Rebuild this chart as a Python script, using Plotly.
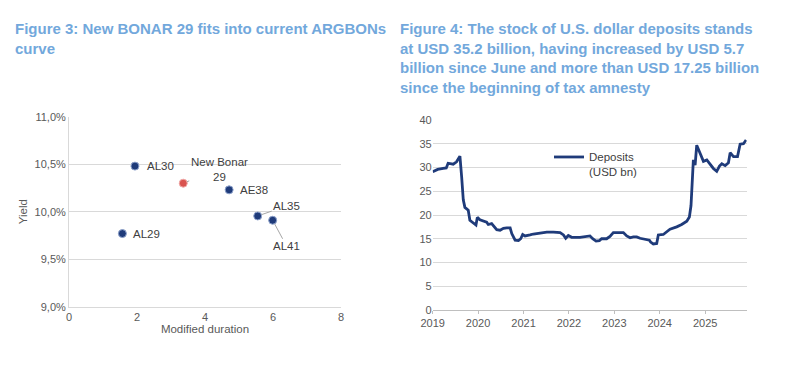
import plotly.graph_objects as go

# ---------- Figure 3 data ----------
bond_names = ["AL29", "AL30", "AE38", "AL35", "AL41"]
bond_duration = [1.57, 1.94, 4.71, 5.55, 5.99]
bond_yield = [9.77, 10.48, 10.23, 9.955, 9.91]
new_name = ["New Bonar<br>29"]
new_duration = [3.36]
new_yield = [10.30]

# ---------- Figure 4 data ----------
dep_dates = [
    "2019-01-01", "2019-02-10", "2019-03-26", "2019-04-20", "2019-05-05", "2019-06-15",
    "2019-07-12", "2019-08-08", "2019-08-22", "2019-09-04", "2019-09-17", "2019-10-14",
    "2019-10-27", "2019-11-23", "2019-12-15", "2019-12-26", "2020-01-16", "2020-03-10",
    "2020-03-23", "2020-04-19", "2020-05-16", "2020-05-30", "2020-06-26", "2020-07-23",
    "2020-08-19", "2020-09-15", "2020-09-28", "2020-10-12", "2020-10-25", "2020-11-21",
    "2020-12-09", "2020-12-25", "2021-01-13", "2021-02-22", "2021-03-21", "2021-05-14",
    "2021-07-07", "2021-08-29", "2021-10-22", "2021-11-18", "2021-12-06", "2021-12-27",
    "2022-01-23", "2022-03-31", "2022-05-24", "2022-06-19", "2022-07-11", "2022-08-07",
    "2022-09-03", "2022-09-21", "2022-10-31", "2022-11-27", "2022-12-24", "2023-02-16",
    "2023-03-15", "2023-04-11", "2023-05-08", "2023-06-03", "2023-06-30", "2023-07-27",
    "2023-09-19", "2023-10-10", "2023-10-20", "2023-11-11", "2023-12-08", "2023-12-21",
    "2024-01-30", "2024-02-26", "2024-03-24", "2024-05-17", "2024-06-26", "2024-08-06",
    "2024-08-27", "2024-09-09", "2024-09-20", "2024-09-28", "2024-10-12", "2024-10-25",
    "2024-11-21", "2024-12-18", "2025-01-14", "2025-02-10", "2025-03-08", "2025-04-04",
    "2025-04-26", "2025-05-15", "2025-06-11", "2025-07-07", "2025-07-21", "2025-08-17",
    "2025-09-18", "2025-10-09", "2025-11-05", "2025-11-26",
]
dep_values = [
    29.1, 29.6, 29.8, 29.9, 30.9, 30.7,
    31.2, 32.4, 28.0, 23.2, 21.6, 21.0,
    18.9, 18.3, 17.9, 19.5, 19.0, 18.5,
    18.0, 18.2, 17.2, 16.9, 16.8, 17.2,
    17.3, 17.3, 16.1, 15.2, 14.7, 14.6,
    15.0, 15.9, 15.6, 15.8, 16.0, 16.2,
    16.4, 16.4, 16.3, 15.8, 15.1, 15.7,
    15.3, 15.3, 15.4, 15.6, 15.0, 14.5,
    14.6, 15.0, 15.0, 15.5, 16.3, 16.4,
    16.3, 15.6, 15.2, 15.4, 15.4, 15.1,
    14.9, 14.7, 14.3, 13.9, 14.0, 15.8,
    15.9, 16.5, 17.0, 17.5, 18.0, 18.7,
    19.6, 22.0, 28.4, 31.6, 30.5, 34.7,
    33.0, 31.3, 31.6, 30.6, 29.8, 29.2,
    30.3, 30.8, 30.4, 31.0, 33.1, 32.3,
    32.3, 34.9, 35.0, 35.8,
]

label_shift = {"AL29": 9, "AL30": 10, "AE38": 9}

TITLE_COLOR = "#72a8dc"
TEXT_COLOR = "#595959"
LABEL_COLOR = "#404040"
GRID = "#d9d9d9"
NAVY = "#1f3b7a"
FONT = "Liberation Sans"

W, H = 800, 366
OFF = 8  # page body margin offset


def px(x):
    return (x - OFF) / W


def py(y):
    return 1 - (y - OFF) / H


fig = go.Figure()

fig.add_trace(go.Scatter(
    x=bond_duration, y=bond_yield, mode="markers", xaxis="x", yaxis="y",
    marker=dict(size=8, color=NAVY, line=dict(width=1, color="#8fa3cc")),
    showlegend=False, hoverinfo="skip"))
fig.add_trace(go.Scatter(
    x=new_duration, y=new_yield, mode="markers", xaxis="x", yaxis="y",
    marker=dict(size=8, color="#d9534f", line=dict(width=1, color="#f0a8a6")),
    showlegend=False, hoverinfo="skip"))

fig.add_trace(go.Scatter(
    x=dep_dates, y=dep_values, mode="lines", xaxis="x2", yaxis="y2",
    name="Deposits<br>(USD bn)", line=dict(color=NAVY, width=2.8),
    showlegend=True, hoverinfo="skip"))

annotations = []
for n, dx, dy in zip(bond_names, bond_duration, bond_yield):
    if n in label_shift:
        annotations.append(dict(
            x=dx, y=dy, xref="x", yref="y", text=n, showarrow=False,
            xanchor="left", yanchor="middle", xshift=label_shift[n],
            font=dict(family=FONT, size=11.5, color=LABEL_COLOR)))
annotations.append(dict(
    x=bond_duration[3], y=bond_yield[3], xref="x", yref="y", text="AL35",
    showarrow=True, arrowhead=0, arrowwidth=1, arrowcolor="#a6a6a6",
    ax=29, ay=-10, standoff=4, font=dict(family=FONT, size=11.5, color=LABEL_COLOR)))
annotations.append(dict(
    x=bond_duration[4], y=bond_yield[4], xref="x", yref="y", text="AL41",
    showarrow=True, arrowhead=0, arrowwidth=1, arrowcolor="#a6a6a6",
    ax=14, ay=26, standoff=4, font=dict(family=FONT, size=11.5, color=LABEL_COLOR)))
annotations.append(dict(
    x=new_duration[0], y=new_yield[0], xref="x", yref="y", text=new_name[0],
    showarrow=True, arrowhead=0, arrowwidth=1, arrowcolor="#a6a6a6",
    ax=36, ay=-14, standoff=4, font=dict(family=FONT, size=11.5, color=LABEL_COLOR)))

# Titles
annotations.append(dict(
    x=px(13), y=py(18), xref="paper", yref="paper",
    text="<b>Figure 3: New BONAR 29 fits into current ARGBONs<br>curve</b>",
    showarrow=False, xanchor="left", yanchor="top", align="left",
    font=dict(family=FONT, size=15, color=TITLE_COLOR)))
annotations.append(dict(
    x=px(398), y=py(18), xref="paper", yref="paper",
    text="<b>Figure 4: The stock of U.S. dollar deposits stands<br>"
         "at USD 35.2 billion, having increased by USD 5.7<br>"
         "billion since June and more than USD 17.25 billion<br>"
         "since the beginning of tax amnesty</b>",
    showarrow=False, xanchor="left", yanchor="top", align="left",
    font=dict(family=FONT, size=15, color=TITLE_COLOR)))

fig.update_layout(
    width=W, height=H,
    margin=dict(l=0, r=0, t=0, b=0, autoexpand=False),
    paper_bgcolor="white", plot_bgcolor="white",
    separators=",.",
    font=dict(family=FONT, size=11, color=TEXT_COLOR),
    annotations=annotations,
    xaxis=dict(
        domain=[px(69), px(341)], range=[0, 8], dtick=2, automargin=False,
        showgrid=False, zeroline=False, showline=True, linecolor=GRID,
        ticks="", tickfont=dict(size=11, color=TEXT_COLOR),
        title=dict(text="Modified duration", font=dict(size=11.5, color=TEXT_COLOR), standoff=2),
        anchor="y",
    ),
    yaxis=dict(
        domain=[py(306.7), py(116.7)], range=[9.0, 11.0], dtick=0.5,
        tickformat=".1f", ticksuffix="%", automargin=False,
        showgrid=True, gridcolor=GRID, zeroline=False, showline=True, linecolor=GRID,
        ticks="", tickfont=dict(size=11, color=TEXT_COLOR),
        title=dict(text="Yield", font=dict(size=11.5, color=TEXT_COLOR), standoff=4),
        anchor="x",
    ),
    xaxis2=dict(
        domain=[px(432.7), px(746.7)], range=["2019-01-01", "2025-12-01"],
        type="date", dtick="M12", tick0="2019-01-01", tickformat="%Y", automargin=False,
        showgrid=False, zeroline=False, showline=True, linecolor="#bfbfbf",
        ticks="outside", ticklen=3, tickcolor="#bfbfbf",
        tickfont=dict(size=11, color=TEXT_COLOR), anchor="y2",
    ),
    yaxis2=dict(
        domain=[py(310), py(120)], range=[0, 40], dtick=5, automargin=False,
        showgrid=True, gridcolor=GRID, zeroline=False, showline=False,
        ticks="", tickfont=dict(size=11, color=TEXT_COLOR), anchor="x2",
    ),
    legend=dict(
        x=px(549), y=py(143), xanchor="left", yanchor="top",
        bgcolor="rgba(0,0,0,0)", valign="top", itemwidth=30,
        font=dict(family=FONT, size=11.5, color=LABEL_COLOR),
    ),
)

fig.write_html("out.html")
